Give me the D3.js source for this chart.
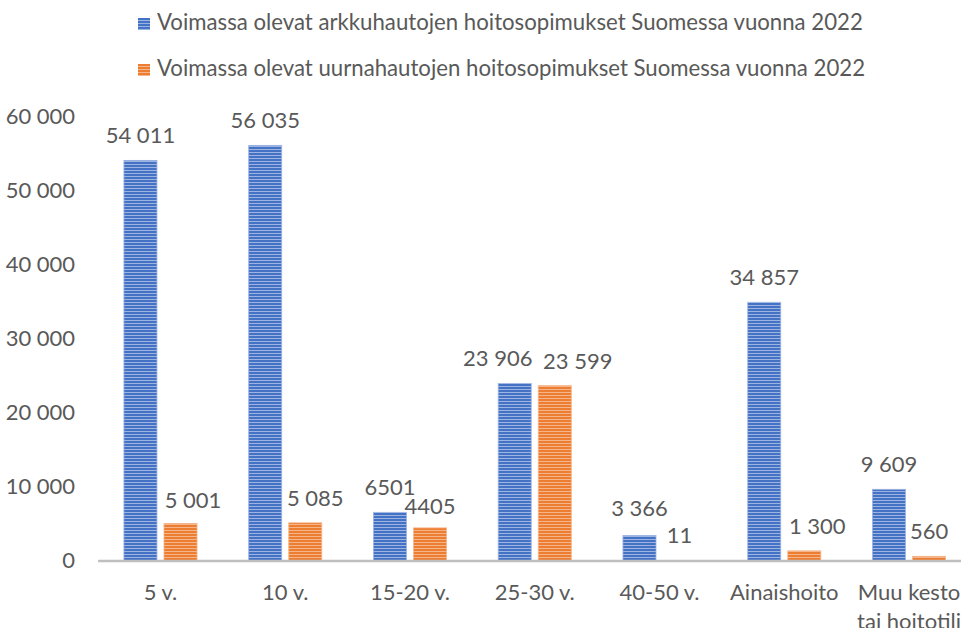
<!DOCTYPE html>
<html>
    <head>
        <meta charset="utf-8">
        <script src="https://d3js.org/d3.v7.min.js"></script>
        <style>
            body { margin: 0; background: #fff; overflow: hidden; }
            svg { display: block; }
            text { font-family: Lato, "Liberation Sans", sans-serif; fill: #595959; }
        </style>
    </head>
    <body>
        <div id="chart"></div>
        <script>

            // data
            var categories = ["5 v.", "10 v.", "15-20 v.", "25-30 v.", "40-50 v.", "Ainaishoito", "Muu kesto|tai hoitotili"];
            var arkku = [54011, 56035, 6501, 23906, 3366, 34857, 9609];
            var uurna = [5001, 5085, 4405, 23599, 11, 1300, 560];
            var arkkuLabels = ["54 011", "56 035", "6501", "23 906", "3 366", "34 857", "9 609"];
            var uurnaLabels = ["5 001", "5 085", "4405", "23 599", "11", "1 300", "560"];
            var seriesNames = ["Voimassa olevat arkkuhautojen hoitosopimukset Suomessa vuonna 2022",
                               "Voimassa olevat uurnahautojen hoitosopimukset Suomessa vuonna 2022"];
            var yTicks = [0, 10000, 20000, 30000, 40000, 50000, 60000];

            var width = 961, height = 628;
            var plotLeft = 98.1, plotRight = 971.4, plotTop = 116, plotBottom = 560.5;

            var colors = ["#4472C4", "#ED7D31"];
            var lights = ["#9db4e2", "#f5b58a"];

            // label nudges (Excel labels moved by hand in the original)
            var nudge = [
                [[0,0],[0,0],[0,0],[-17,0],[0,-3],[0,0],[0,0]],
                [[12.5,2],[10,0],[0,3],[23,0],[0,0],[13,0],[0,0]]
            ];

            var svg = d3.select("#chart").append("svg")
                .attr("width", width)
                .attr("height", height);

            // striped fills
            var defs = svg.append("defs");
            colors.forEach(function(c, i) {
                var p = defs.append("pattern")
                    .attr("id", "stripe" + i)
                    .attr("patternUnits", "userSpaceOnUse")
                    .attr("width", 6).attr("height", 3);
                p.append("rect").attr("width", 6).attr("height", 3).attr("fill", c);
                p.append("rect").attr("y", 2).attr("width", 6).attr("height", 1).attr("fill", lights[i]);
            });

            var x0 = d3.scaleBand()
                .domain(categories)
                .range([plotLeft, plotRight])
                .paddingInner(0.414)
                .paddingOuter(0.207);

            var x1 = d3.scaleBand()
                .domain([0, 1])
                .range([0, x0.bandwidth()])
                .paddingInner(0.175);

            var y = d3.scaleLinear()
                .domain([0, 60000])
                .range([plotBottom, plotTop]);

            // y axis labels
            var fmt = function(d) { return d3.format(",")(d).replace(/,/g, " "); };
            var yAxis = svg.append("g")
                .attr("transform", "translate(" + plotLeft + ",0)")
                .call(d3.axisLeft(y).tickValues(yTicks).tickSize(0).tickPadding(23).tickFormat(fmt));
            yAxis.select(".domain").remove();
            yAxis.selectAll("text")
                .style("font-size", "22px")
                .style("font-family", "Lato, 'Liberation Sans', sans-serif")
                .attr("fill", "#595959");

            // bars
            var series = [arkku, uurna];
            var labels = [arkkuLabels, uurnaLabels];
            series.forEach(function(vals, s) {
                svg.selectAll(".bar" + s)
                    .data(vals)
                    .join("rect")
                        .attr("class", "bar" + s)
                        .attr("x", function(d, i) { return x0(categories[i]) + x1(s); })
                        .attr("y", function(d) { return y(d); })
                        .attr("width", x1.bandwidth())
                        .attr("height", function(d) { return plotBottom - y(d); })
                        .attr("fill", "url(#stripe" + s + ")")
                        .attr("stroke", lights[s])
                        .attr("stroke-width", 0.8);

                svg.selectAll(".lab" + s)
                    .data(vals)
                    .join("text")
                        .attr("class", "lab" + s)
                        .attr("x", function(d, i) { return x0(categories[i]) + x1(s) + x1.bandwidth() / 2 + nudge[s][i][0]; })
                        .attr("y", function(d, i) { return y(d) - 17 + nudge[s][i][1]; })
                        .attr("text-anchor", "middle")
                        .style("font-size", "22px")
                        .text(function(d, i) { return labels[s][i]; });
            });

            // x axis line
            svg.append("line")
                .attr("x1", plotLeft).attr("x2", width)
                .attr("y1", plotBottom + 0.5).attr("y2", plotBottom + 0.5)
                .attr("stroke", "#bfbfbf")
                .attr("stroke-width", 2.5);

            // category labels
            svg.selectAll(".cat")
                .data(categories)
                .join("text")
                    .attr("class", "cat")
                    .attr("text-anchor", "middle")
                    .style("font-size", "22px")
                    .each(function(d) {
                        var t = d3.select(this);
                        d.split("|").forEach(function(line, k) {
                            t.append("tspan")
                                .attr("x", x0(d) + x0.bandwidth() / 2)
                                .attr("y", 600 + k * 29)
                                .text(line);
                        });
                    });

            // legend
            var legend = svg.selectAll(".legend")
                .data(seriesNames)
                .join("g")
                    .attr("class", "legend")
                    .attr("transform", function(d, i) { return "translate(138," + (30 + i * 46) + ")"; });
            legend.append("rect")
                .attr("y", -12)
                .attr("width", 12).attr("height", 12)
                .attr("fill", function(d, i) { return "url(#stripe" + i + ")"; });
            legend.append("text")
                .attr("x", 19)
                .style("font-size", "22.2px")
                .text(function(d) { return d; });

        </script>
    </body>
</html>
